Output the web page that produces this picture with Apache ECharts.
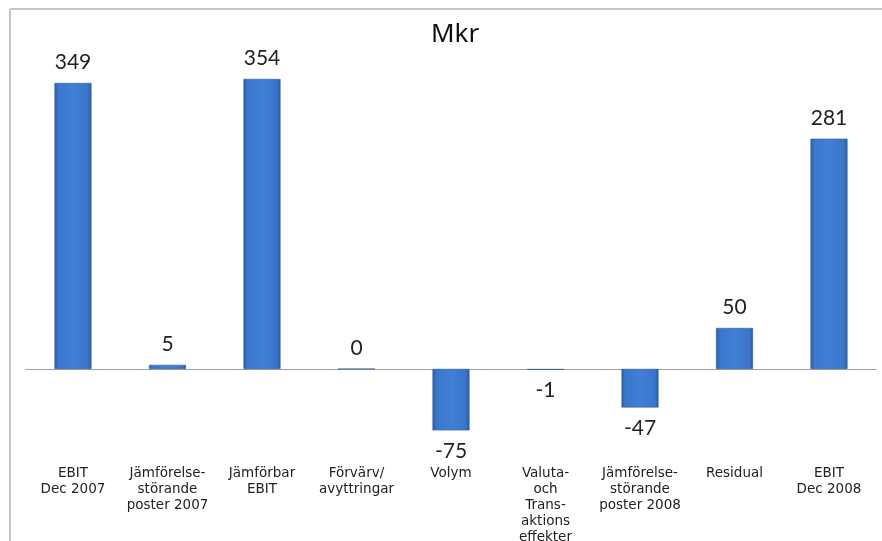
<!DOCTYPE html>
<html>
<head>
<meta charset="utf-8">
<script src="https://cdn.jsdelivr.net/npm/echarts@6/dist/echarts.min.js"></script>
<style>
html,body{margin:0;padding:0;background:#fff;}
#chart{width:882px;height:541px;}
</style>
</head>
<body>
<div id="chart"></div>
<script>
const categories = [
  'EBIT\nDec 2007',
  'Jämförelse-\nstörande\nposter 2007',
  'Jämförbar\nEBIT',
  'Förvärv/\navyttringar',
  'Volym',
  'Valuta-\noch\nTrans-\naktions\neffekter',
  'Jämförelse-\nstörande\nposter 2008',
  'Residual',
  'EBIT\nDec 2008'
];
const values = [349, 5, 354, 0, -75, -1, -47, 50, 281];
const titleText = 'Mkr';

const chart = echarts.init(document.getElementById('chart'));

const barColor = new echarts.graphic.LinearGradient(0, 0, 1, 0, [
  {offset: 0, color: '#2a5ca6'},
  {offset: 0.1, color: '#3a76cc'},
  {offset: 0.5, color: '#4080d6'},
  {offset: 0.9, color: '#3a75ca'},
  {offset: 1, color: '#2a5aa2'}
]);

chart.setOption({
  animation: false,
  backgroundColor: '#ffffff',
  title: {
    text: titleText,
    left: 426,
    top: 17,
    textStyle: {fontFamily: 'Noto Sans', fontSize: 26, fontWeight: 'normal', color: '#111'}
  },
  grid: {left: 25.75, right: 5.75, top: 41.2, bottom: 90.1, containLabel: false, outerBoundsMode: 'none'},
  xAxis: [{
    type: 'category',
    data: categories,
    axisLine: {show: true, onZero: true, lineStyle: {color: '#a0a0a0', width: 1}},
    axisTick: {show: false},
    axisLabel: {show: false},
    splitLine: {show: false}
  }, {
    type: 'category',
    data: categories,
    position: 'bottom',
    axisLine: {show: false, onZero: false},
    axisTick: {show: false},
    axisLabel: {
      interval: 0,
      margin: 15,
      verticalAlign: 'top',
      fontFamily: 'DejaVu Sans',
      fontSize: 13.5,
      lineHeight: 16,
      color: '#222'
    },
    splitLine: {show: false}
  }],
  yAxis: {
    type: 'value',
    min: -100,
    max: 400,
    show: false,
    splitLine: {show: false}
  },
  series: [{
    type: 'bar',
    barWidth: 37,
    data: values.map(v => ({
      value: v,
      label: {position: v < 0 ? 'bottom' : 'top'}
    })),
    itemStyle: {color: barColor, borderColor: '#2d5c9c', borderWidth: 0.6},
    label: {
      show: true,
      distance: 10,
      fontFamily: 'Lato',
      fontSize: 21,
      color: '#222'
    }
  }],
  graphic: [
    {type: 'line', shape: {x1: 10, y1: 9, x2: 882, y2: 9}, style: {stroke: '#c6c6c6', lineWidth: 2}},
    {type: 'line', shape: {x1: 10, y1: 9, x2: 10, y2: 541}, style: {stroke: '#c6c6c6', lineWidth: 2}}
  ]
});
</script>
</body>
</html>
